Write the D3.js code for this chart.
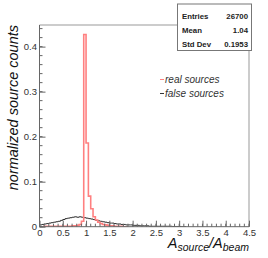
<!DOCTYPE html>
<html lang="en">
<head>
  <meta charset="UTF-8">
  <title>Source amplitude ratio</title>
  <style>
    body { margin: 0; background: #fff; }
    text { font-family: "Liberation Sans", Arial, sans-serif; }
  </style>
</head>
<body>
  <svg id="svg" width="268" height="258"></svg>

  <script src="https://d3js.org/d3.v7.min.js"></script>
  <script>
    // histogram binning (90 bins from 0 to 4.5)
    const binStart = 0
    const binWidth = 0.05

    // normalized bin contents, starting at bin 0
    const realSources = [
      0.000, 0.000, 0.001, 0.001, 0.001, 0.001, 0.001, 0.001, 0.001, 0.001,
      0.001, 0.001, 0.001, 0.001, 0.002, 0.002, 0.003, 0.005, 0.012, 0.427,
      0.186, 0.068, 0.040, 0.022, 0.015, 0.010, 0.007, 0.005, 0.004, 0.003,
      0.002, 0.002, 0.001, 0.001, 0.001, 0.001, 0.000, 0.000
    ]
    const falseSources = [
      0.004, 0.005, 0.006, 0.007, 0.008, 0.009, 0.010, 0.011, 0.012, 0.014,
      0.016, 0.018, 0.019, 0.020, 0.021, 0.022, 0.021, 0.022, 0.021, 0.020,
      0.019, 0.018, 0.017, 0.016, 0.014, 0.013, 0.012, 0.011, 0.010, 0.009,
      0.008, 0.008, 0.007, 0.006, 0.006, 0.005, 0.005, 0.004, 0.004, 0.004,
      0.003, 0.003, 0.003, 0.002, 0.002, 0.002, 0.002, 0.001, 0.001, 0.001,
      0.001, 0.001, 0.001, 0.001, 0.001, 0.001, 0.001, 0.0005, 0.0005, 0.0005,
      0.0005, 0.000, 0.000
    ]

    const xTicks = [0, 0.5, 1, 1.5, 2, 2.5, 3, 3.5, 4, 4.5]
    const yTicks = [0, 0.1, 0.2, 0.3, 0.4]

    const statLabels = ['Entries', 'Mean', 'Std Dev']
    const statValues = ['26700', '1.04', '0.1953']

    const legendNames = ['real sources', 'false sources']
    const legendColors = ['#ff8080', '#333333']

    // frame
    const frame = { left: 39.5, right: 249, top: 25, bottom: 226.7 }

    const xscale = d3.scaleLinear()
      .domain([0, 4.5])
      .range([frame.left, frame.right])

    const yscale = d3.scaleLinear()
      .domain([0, 0.448])
      .range([frame.bottom, frame.top])

    const svg = d3.select('#svg')

    svg.append('clipPath').attr('id', 'clip')
      .append('rect')
      .attr('x', frame.left).attr('y', frame.top)
      .attr('width', frame.right - frame.left)
      .attr('height', frame.bottom - frame.top)

    // build step histogram points
    function histPoints(values) {
      const pts = [[binStart, 0]]
      values.forEach((v, i) => pts.push([binStart + i * binWidth, v]))
      const end = binStart + values.length * binWidth
      pts.push([end, values[values.length - 1]])
      pts.push([end, 0])
      return pts
    }

    const stepLine = d3.line()
      .x(d => xscale(d[0]))
      .y(d => yscale(d[1]))
      .curve(d3.curveStepAfter)

    const histGroup = svg.append('g').attr('clip-path', 'url(#clip)')

    histGroup.append('path')
      .attr('d', stepLine(histPoints(falseSources)))
      .attr('fill', 'none')
      .attr('stroke', legendColors[1])
      .attr('stroke-width', 1)

    histGroup.append('path')
      .attr('d', stepLine(histPoints(realSources)))
      .attr('fill', 'none')
      .attr('stroke', legendColors[0])
      .attr('stroke-width', 1.6)

    // frame top and right
    svg.append('path')
      .attr('d', `M${frame.left},${frame.top}H${frame.right}V${frame.bottom}`)
      .attr('fill', 'none')
      .attr('stroke', '#999')
      .attr('stroke-width', 1)

    // x axis, ROOT-style ticks pointing inward
    const bottomAxis = d3.axisBottom(xscale)
      .tickValues(xTicks)
      .tickSize(-6)
      .tickPadding(3)
      .tickFormat(d => d3.format('')(d))
    const gx = svg.append('g')
      .attr('transform', `translate(0, ${frame.bottom})`)
      .call(bottomAxis)
    gx.select('.domain').attr('stroke', '#666').attr('d', `M${frame.left},0H${frame.right}`)
    gx.selectAll('.tick line').attr('stroke', '#666')
    gx.selectAll('.tick text')
      .attr('font-size', 9.5)
      .attr('fill', '#333')
      .attr('font-family', '"Liberation Sans", Arial, sans-serif')
    gx.selectAll('.minor')
      .data(d3.range(0, 46).map(i => i / 10))
      .enter().append('line')
      .attr('class', 'minor')
      .attr('x1', d => xscale(d)).attr('x2', d => xscale(d))
      .attr('y1', 0).attr('y2', -3)
      .attr('stroke', '#666')

    // y axis
    const leftAxis = d3.axisLeft(yscale)
      .tickValues(yTicks)
      .tickSize(-6)
      .tickPadding(2.5)
      .tickFormat(d => d3.format('')(d))
    const gy = svg.append('g')
      .attr('transform', `translate(${frame.left}, 0)`)
      .call(leftAxis)
    gy.select('.domain').attr('stroke', '#666').attr('d', `M0,${frame.bottom}V${frame.top}`)
    gy.selectAll('.tick line').attr('stroke', '#666')
    gy.selectAll('.tick text')
      .attr('font-size', 9.5)
      .attr('fill', '#333')
      .attr('font-family', '"Liberation Sans", Arial, sans-serif')
    gy.selectAll('.minor')
      .data(d3.range(0, 23).map(i => i * 0.02))
      .enter().append('line')
      .attr('class', 'minor')
      .attr('x1', 0).attr('x2', 3)
      .attr('y1', d => yscale(d)).attr('y2', d => yscale(d))
      .attr('stroke', '#666')

    // axis titles
    svg.append('text')
      .attr('transform', `translate(18, ${frame.top}) rotate(-90)`)
      .attr('text-anchor', 'end')
      .attr('font-size', 14.5)
      .attr('font-style', 'italic')
      .attr('fill', '#111')
      .text('normalized source counts')

    const xt = svg.append('text')
      .attr('x', frame.right)
      .attr('y', 248)
      .attr('text-anchor', 'end')
      .attr('font-style', 'italic')
      .attr('fill', '#111')
      .attr('font-size', 14.5)
    xt.append('tspan').text('A')
    xt.append('tspan').attr('font-size', 10.5).attr('dy', 3).text('source')
    xt.append('tspan').attr('dy', -3).text('/A')
    xt.append('tspan').attr('font-size', 10.5).attr('dy', 3).text('beam')

    // legend
    const legend = svg.append('g')
    legendNames.forEach((name, i) => {
      const y = 83 + i * 14
      legend.append('line')
        .attr('x1', 160).attr('x2', 164)
        .attr('y1', y - 3.5).attr('y2', y - 3.5)
        .attr('stroke', legendColors[i])
      legend.append('text')
        .attr('x', 165).attr('y', y)
        .attr('font-size', 10)
        .attr('font-style', 'italic')
        .attr('fill', '#333')
        .text(name)
    })

    // stats box
    const stats = svg.append('g')
    stats.append('rect')
      .attr('x', 177.5).attr('y', 4)
      .attr('width', 74).attr('height', 46.5)
      .attr('fill', '#fff')
      .attr('stroke', '#777')
    statLabels.forEach((lab, i) => {
      const y = 19 + i * 14
      stats.append('text')
        .attr('x', 182).attr('y', y)
        .attr('font-size', 7.8)
        .attr('font-weight', 'bold')
        .attr('fill', '#222')
        .text(lab)
      stats.append('text')
        .attr('x', 248).attr('y', y)
        .attr('text-anchor', 'end')
        .attr('font-size', 7.8)
        .attr('font-weight', 'bold')
        .attr('fill', '#222')
        .text(statValues[i])
    })
  </script>
</body>
</html>
